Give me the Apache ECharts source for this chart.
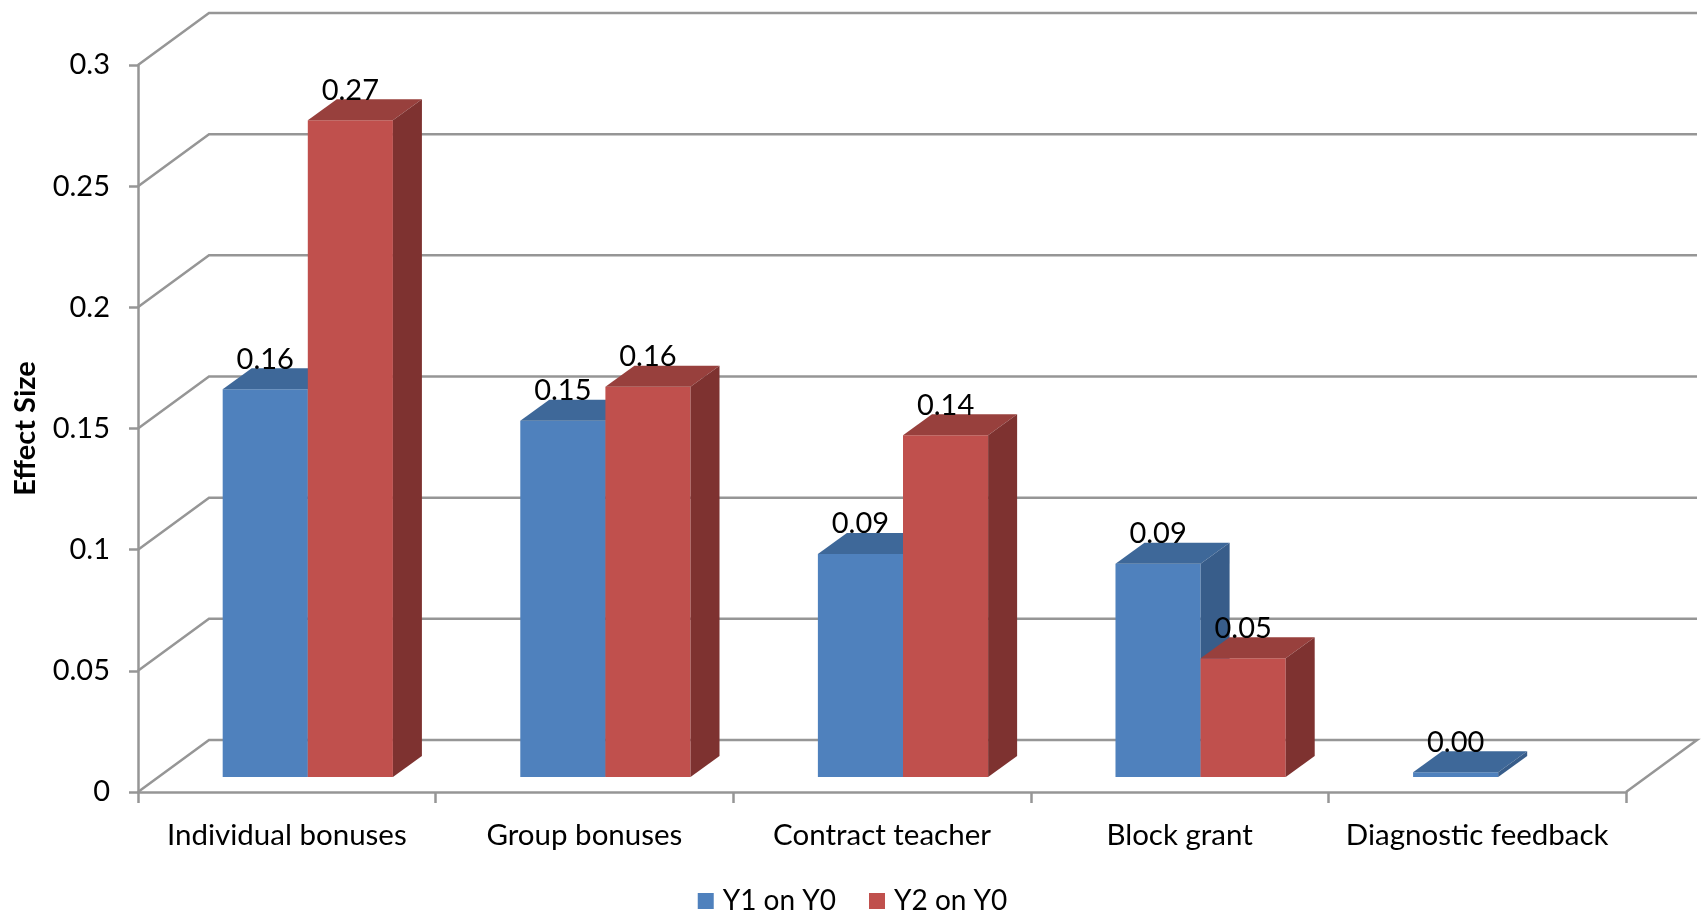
<!DOCTYPE html>
<html>
<head>
<meta charset="utf-8">
<script src="https://cdn.jsdelivr.net/npm/echarts/dist/echarts.min.js"></script>
<style>
  html, body { margin: 0; padding: 0; background: #fff; }
  #chart { width: 1705px; height: 915px; }
</style>
</head>
<body>
<div id="chart"></div>
<script>
// data
const categories = ['Individual bonuses', 'Group bonuses', 'Contract teacher', 'Block grant', 'Diagnostic feedback']
const y1OnY0 = [0.16, 0.147, 0.092, 0.088, 0.002]
const y2OnY0 = [0.271, 0.161, 0.141, 0.049, null]
const yTicks = [0, 0.05, 0.1, 0.15, 0.2, 0.25, 0.3]

// fake 3d: oblique offsets in px
const WALL_DX = 71, WALL_DY = -52
const FRONT_DX = 21, FRONT_DY = -15
const BAR_DX = 29, BAR_DY = -21
const FONT = 'Lato, "Open Sans", sans-serif'
const GRID_LINE = '#969696'

let myChart = echarts.init(document.getElementById('chart'))

function toData(arr) {
  let out = []
  arr.forEach((v, i) => { if (v !== null) out.push([i, v]) })
  return out
}

function barRender(side, front, top, dark) {
  return function (params, api) {
    let i = api.value(0)
    let v = api.value(1)
    let base = api.coord([i, 0])
    let tp = api.coord([i, v])
    let band = api.size([1, 0])[0]
    let w = band * 0.286
    let x0 = base[0] + FRONT_DX + (side === 0 ? -w : 0)
    let yb = base[1] + FRONT_DY
    let yt = tp[1] + FRONT_DY
    return {
      type: 'group',
      children: [
        {
          type: 'rect',
          shape: { x: x0, y: yt, width: w, height: yb - yt },
          style: { fill: front }
        },
        {
          type: 'polygon',
          shape: { points: [[x0, yt], [x0 + w, yt], [x0 + w + BAR_DX, yt + BAR_DY], [x0 + BAR_DX, yt + BAR_DY]] },
          style: { fill: top }
        },
        {
          type: 'polygon',
          shape: { points: [[x0 + w, yt], [x0 + w + BAR_DX, yt + BAR_DY], [x0 + w + BAR_DX, yb + BAR_DY], [x0 + w, yb]] },
          style: { fill: dark }
        },
        {
          type: 'text',
          z2: 10,
          style: {
            text: v.toFixed(2),
            x: x0 + w / 2,
            y: yt + BAR_DY - 9,
            align: 'center',
            verticalAlign: 'middle',
            fill: '#000',
            fontSize: 29,
            fontFamily: FONT
          }
        }
      ]
    }
  }
}

function wallRender(params, api) {
  let v = api.value(1)
  let p = api.coord([0, v])
  let cs = params.coordSys
  let x0 = cs.x, x1 = cs.x + cs.width, y = p[1]
  let pts = [[x0, y], [x0 + WALL_DX, y + WALL_DY], [x1 + WALL_DX, y + WALL_DY]]
  if (v === 0) pts.push([x1, y])
  return {
    type: 'polyline',
    shape: { points: pts },
    style: { stroke: GRID_LINE, lineWidth: 2.5, fill: 'none' }
  }
}

myChart.setOption({
  animation: false,
  grid: { left: 138, right: 79, top: 65, bottom: 123 },
  legend: {
    data: ['Y1 on Y0', 'Y2 on Y0'],
    top: 882,
    left: 'center',
    icon: 'rect',
    itemWidth: 16,
    itemHeight: 16,
    itemGap: 33,
    textStyle: { color: '#000', fontSize: 28, fontFamily: FONT, padding: [0, 0, 0, 4] }
  },
  xAxis: {
    type: 'category',
    data: categories,
    axisLine: { show: true, lineStyle: { color: GRID_LINE, width: 2.5 } },
    axisTick: { show: true, length: 11, lineStyle: { color: GRID_LINE, width: 2.5 } },
    axisLabel: { interval: 0, color: '#000', fontSize: 29.5, fontFamily: FONT, margin: 28 },
    splitLine: { show: false }
  },
  yAxis: {
    type: 'value',
    min: 0,
    max: 0.3,
    interval: 0.05,
    name: 'Effect Size',
    nameLocation: 'middle',
    nameGap: 98,
    nameTextStyle: { color: '#000', fontSize: 29, fontWeight: 'bold', fontFamily: FONT },
    axisLine: { show: true, lineStyle: { color: GRID_LINE, width: 2.5 } },
    axisTick: { show: true, length: 9, lineStyle: { color: GRID_LINE, width: 2.5 } },
    axisLabel: { color: '#000', fontSize: 29, fontFamily: FONT, margin: 28 },
    splitLine: { show: false }
  },
  series: [
    {
      type: 'custom',
      name: 'walls',
      silent: true,
      clip: false,
      z: 1,
      renderItem: wallRender,
      data: yTicks.map(v => [0, v])
    },
    {
      type: 'custom',
      name: 'Y1 on Y0',
      clip: false,
      z: 2,
      itemStyle: { color: '#4F81BD' },
      renderItem: barRender(0, '#4F81BD', '#3E6899', '#385D8A'),
      data: toData(y1OnY0)
    },
    {
      type: 'custom',
      name: 'Y2 on Y0',
      clip: false,
      z: 3,
      itemStyle: { color: '#C0504D' },
      renderItem: barRender(1, '#C0504D', '#98403D', '#7E3230'),
      data: toData(y2OnY0)
    }
  ]
})
</script>
</body>
</html>
